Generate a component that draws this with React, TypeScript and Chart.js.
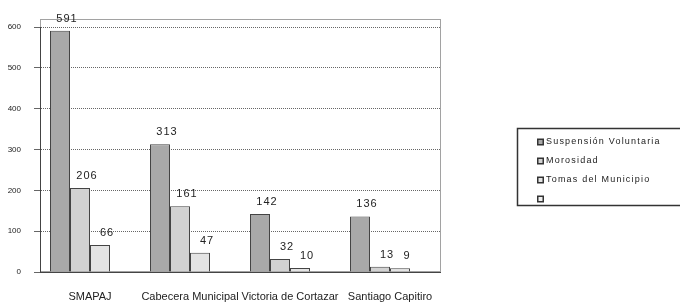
import React, { useEffect, useRef } from "react";
import { Chart, registerables } from "chart.js";

Chart.register(...registerables);

const categories = ["SMAPAJ", "Cabecera Municipal", "Victoria de Cortazar", "Santiago Capitiro"];
const seriesNames = ["Suspensión Voluntaria", "Morosidad", "Tomas del Municipio", ""];
const suspension = [591, 313, 142, 136];
const morosidad = [206, 161, 32, 13];
const tomas = [66, 47, 10, 9];
const empty: (number | null)[] = [null, null, null, null];
const yTicks = [0, 100, 200, 300, 400, 500, 600];

const fills = ["#a9a9a9", "#d2d2d2", "#e4e4e4", "#f0f0f0"];
const FONT = "'Liberation Sans', Arial, sans-serif";

const valueLabels = {
  id: "valueLabels",
  afterDatasetsDraw(chart: any) {
    const ctx = chart.ctx;
    ctx.save();
    ctx.font = `11px ${FONT}`;
    (ctx as any).letterSpacing = "1px";
    ctx.fillStyle = "#222";
    ctx.textAlign = "center";
    ctx.textBaseline = "middle";
    chart.data.datasets.forEach((ds: any, i: number) => {
      const meta = chart.getDatasetMeta(i);
      meta.data.forEach((el: any, j: number) => {
        const v = ds.data[j];
        if (v === null || v === undefined) return;
        ctx.fillText(String(v), el.x + 7, el.y - 12);
      });
    });
    ctx.restore();
  },
};

const customLegend = {
  id: "customLegend",
  afterDraw(chart: any) {
    const ctx = chart.ctx;
    ctx.save();
    const x0 = 517, y0 = 128, w = 170, h = 77;
    ctx.strokeStyle = "#333";
    ctx.lineWidth = 1.5;
    ctx.strokeRect(x0 + 0.5, y0 + 0.5, w, h);
    ctx.font = `9px ${FONT}`;
    (ctx as any).letterSpacing = "1.2px";
    ctx.textBaseline = "middle";
    ctx.textAlign = "left";
    chart.data.datasets.forEach((ds: any, i: number) => {
      const y = 142 + i * 19;
      ctx.fillStyle = "#333";
      ctx.fillRect(537, y - 3.5, 7, 7);
      ctx.fillStyle = ds.backgroundColor;
      ctx.fillRect(538.5, y - 2, 4, 4);
      ctx.fillStyle = "#222";
      ctx.fillText(ds.label, 546, y);
    });
    ctx.restore();
  },
};

const plotBorder = {
  id: "plotBorder",
  beforeDatasetsDraw(chart: any) {
    const { ctx, chartArea } = chart;
    ctx.save();
    ctx.strokeStyle = "#444";
    ctx.lineWidth = 1;
    ctx.setLineDash([1, 1]);
    ctx.strokeRect(chartArea.left + 0.5, chartArea.top - 7.5, chartArea.right - chartArea.left, chartArea.bottom - chartArea.top + 7);
    ctx.restore();
  },
};

export default function App() {
  const ref = useRef<HTMLCanvasElement>(null);
  useEffect(() => {
    document.body.style.margin = "0";
    const chart = new Chart(ref.current as HTMLCanvasElement, {
      type: "bar",
      data: {
        labels: categories,
        datasets: [suspension, morosidad, tomas, empty].map((d, i) => ({
          label: seriesNames[i],
          data: d,
          backgroundColor: fills[i],
          borderColor: "#444",
          borderWidth: 1,
          categoryPercentage: 0.8,
          barPercentage: 1.0,
        })),
      },
      options: {
        animation: false,
        responsive: false,
        layout: { padding: { left: 6, right: 240, top: 27, bottom: 2 } },
        plugins: { legend: { display: false }, tooltip: { enabled: false } },
        scales: {
          x: {
            grid: { display: false, drawTicks: false, tickLength: 0 },
            border: { color: "#444" },
            afterFit: (scale: any) => {
              scale.height = 30;
            },
            ticks: {
              autoSkip: false,
              maxRotation: 0,
              minRotation: 0,
              padding: 18,
              color: "#222",
              font: { family: FONT, size: 11 },
            },
          },
          y: {
            min: 0,
            max: 600,
            afterBuildTicks: (axis: any) => {
              axis.ticks = yTicks.map((v) => ({ value: v }));
            },
            afterFit: (scale: any) => {
              scale.width = 34;
            },
            grid: { color: "#666", tickLength: 6, drawTicks: true },
            border: { color: "#444", dash: [1, 1] },
            ticks: {
              color: "#222",
              padding: 13,
              font: { family: FONT, size: 8 },
            },
          },
        },
      },
      plugins: [plotBorder, valueLabels, customLegend],
    });
    return () => chart.destroy();
  }, []);
  return <canvas ref={ref} width={680} height={304} style={{ display: "block" }} />;
}
